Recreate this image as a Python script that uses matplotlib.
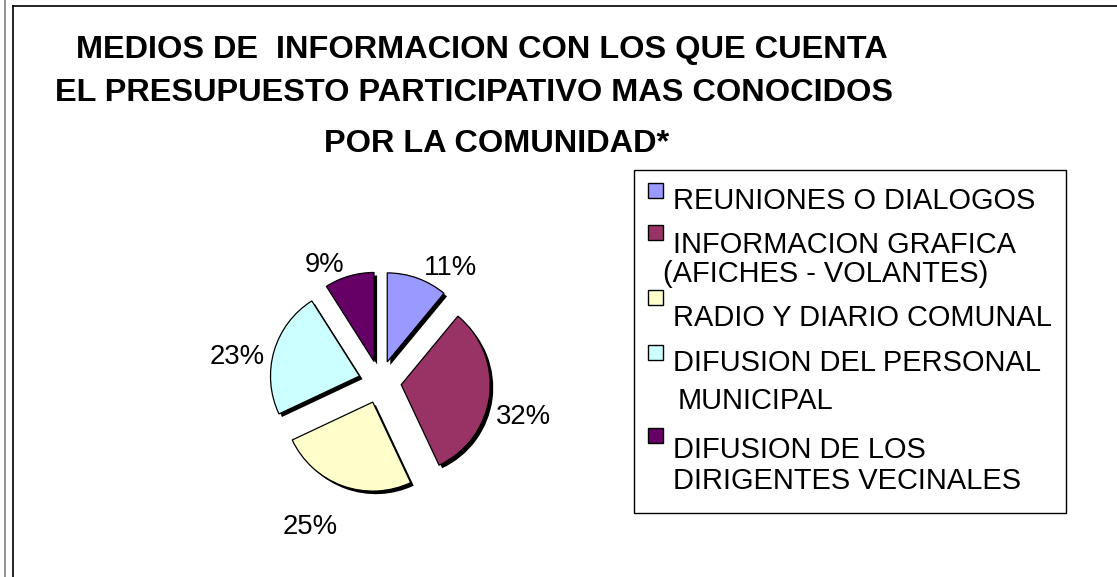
import matplotlib
matplotlib.use("Agg")
import matplotlib.pyplot as plt
from matplotlib.patches import Rectangle
import matplotlib.patheffects as pe

# ---------------- data ----------------
categories = [
    "REUNIONES O DIALOGOS",
    "INFORMACION GRAFICA\n(AFICHES - VOLANTES)",
    "RADIO Y DIARIO COMUNAL",
    "DIFUSION DEL PERSONAL\nMUNICIPAL",
    "DIFUSION DE LOS\nDIRIGENTES VECINALES",
]
values = [11, 32, 25, 23, 9]
colors = ["#9999FF", "#993366", "#FFFFCC", "#CCFFFF", "#660066"]
title_lines = [
    "MEDIOS DE  INFORMACION CON LOS QUE CUENTA",
    "EL PRESUPUESTO PARTICIPATIVO MAS CONOCIDOS",
    "POR LA COMUNIDAD*",
]

# ---------------- layout ----------------
W, H = 1117, 577
FONT = "Liberation Sans"
fig = plt.figure(figsize=(W / 100, H / 100), dpi=100)
fig.patch.set_facecolor("white")

ov = fig.add_axes([0, 0, 1, 1])
ov.set_xlim(0, W)
ov.set_ylim(H, 0)
ov.axis("off")

# frame lines
ov.plot([5, 5], [0, H], color="#808080", lw=1.2)
ov.plot([13, 13], [6, H], color="black", lw=1.2)
ov.plot([13, W], [6, 6], color="black", lw=1.2)

# title
title_pos = [(482, 58), (474, 101), (497, 152)]
for txt, (x, y) in zip(title_lines, title_pos):
    ov.text(x, y, txt, ha="center", va="baseline", fontsize=23.4,
            fontweight="bold", family=FONT)

# legend (drawn manually)
ov.add_patch(Rectangle((634, 170), 432, 343, facecolor="white",
                       edgecolor="black", lw=1.0))
sq_tops = [183, 225, 290, 345, 428]
line_pos = [[(673, 209)], [(673, 253), (663, 282)], [(673, 326)],
            [(673, 371), (678, 409)], [(673, 458), (673, 489)]]
for lab, col, top, lps in zip(categories, colors, sq_tops, line_pos):
    ov.add_patch(Rectangle((648, top), 15, 15, facecolor=col,
                           edgecolor="black", lw=1.0))
    for part, (x, y) in zip(lab.split("\n"), lps):
        ov.text(x, y, part, ha="left", va="baseline", fontsize=20.9,
                family=FONT)

# pie
cx, cy, R = 380, 382, 89
half = 180
ax = fig.add_axes([(cx - half) / W, (H - cy - half) / H, 2 * half / W, 2 * half / H])
wedges, _t, autotexts = ax.pie(
    values, colors=colors, startangle=90, counterclock=False,
    explode=[0.24] * len(values), autopct=lambda p: f"{p:.0f}%",
    pctdistance=1.3,
    wedgeprops=dict(edgecolor="black", linewidth=0.9),
    textprops=dict(fontsize=19.8, family=FONT),
)
for w in wedges:
    w.set_path_effects([pe.SimplePatchShadow(offset=(2.2, -2.2),
                                             shadow_rgbFace="black", alpha=1.0),
                        pe.Normal()])
L = half / R
ax.set_xlim(-L, L)
ax.set_ylim(-L, L)
ax.axis("off")

# label positions (baseline, in pie data units)
label_pos = [(0.79, 1.2), (1.61, -0.467), (-0.79, -1.711), (-1.6, 0.2), (-0.622, 1.233)]
for t, v, (x, y) in zip(autotexts, values, label_pos):
    t.set_text(f"{v}%")
    t.set_position((x, y))
    t.set_va("baseline")
    t.set_ha("center")

fig.savefig("out.png", dpi=100)
